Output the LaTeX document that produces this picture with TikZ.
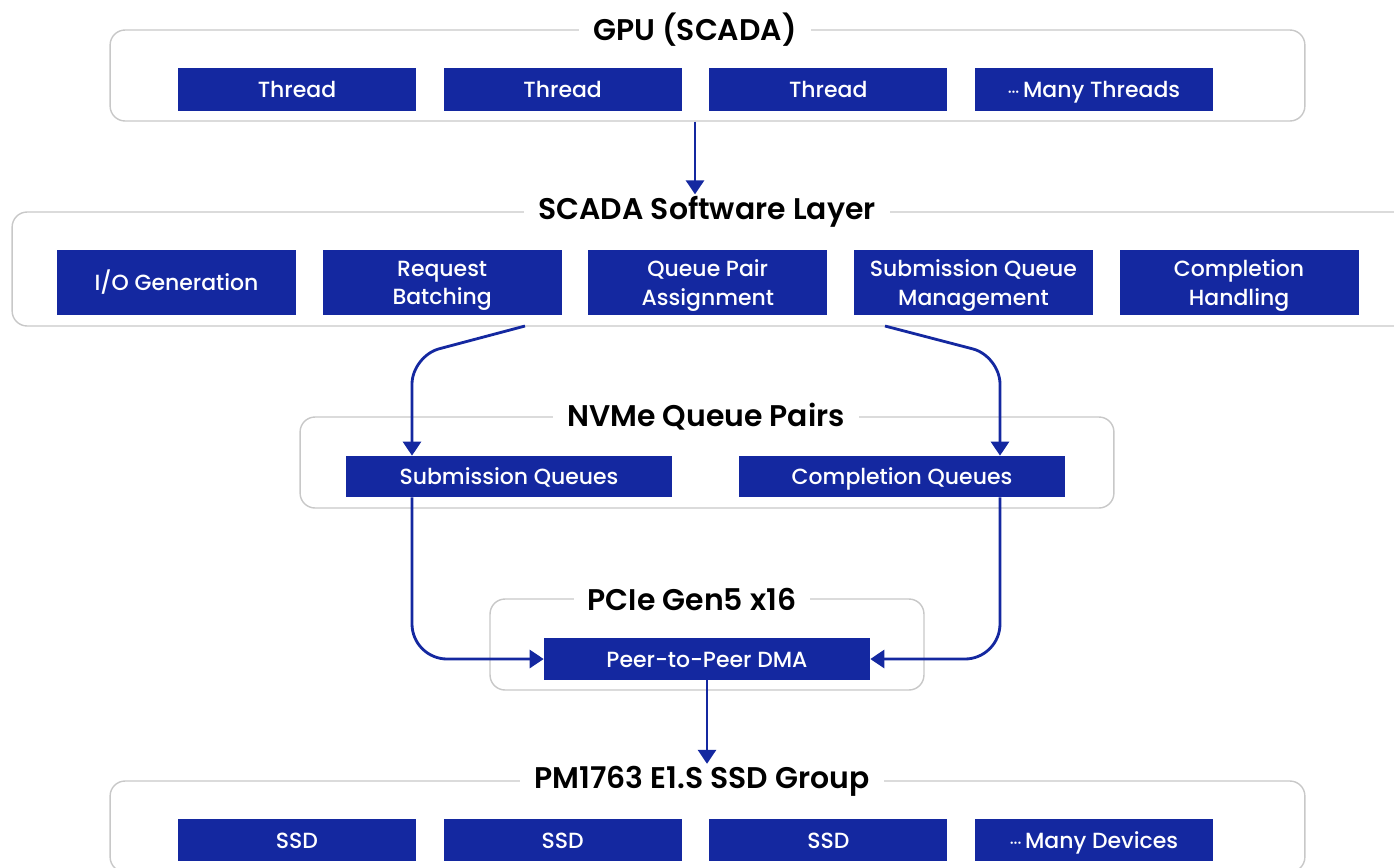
\documentclass[tikz,border=0pt]{standalone}
\usepackage{fontspec}
\setmainfont{Poppins}[BoldFont=* SemiBold]
\newfontfamily\blkfont{Poppins Medium}
\usetikzlibrary{arrows.meta,positioning}
\definecolor{scBlue}{HTML}{1428A0}
\definecolor{frameGray}{HTML}{C8C8C8}
\tikzset{
  frame/.style={draw=frameGray,line width=0.8pt,rounded corners=0.3cm,inner sep=0pt},
  layertitle/.style={fill=white,inner xsep=8pt,inner ysep=1pt,font=\bfseries\fontsize{17}{20}\selectfont},
  blk/.style={fill=scBlue,text=white,inner sep=0pt,align=center,font=\blkfont\fontsize{12.5}{16}\selectfont},
  oneline/.style={text height=2.0ex,text depth=0.3ex},
  twoline/.style={text depth=-1.5pt},
  flow/.style={->,draw=scBlue,line width=1.6pt},
}
\newcommand{\moredots}{{\small···}\,}

\begin{document}
\begin{tikzpicture}[x=0.02cm,y=-0.02cm,>={Triangle[length=0.28cm,width=0.36cm]}]
  \clip (0,0) rectangle (1394,867);
  \fill[white] (0,0) rectangle (1394,867);

  % GPU
  \node[frame,minimum width=23.9cm,minimum height=1.82cm] (gpu) at (707.5,75.5) {};
  \node[layertitle] (gpuT) at (695,30) {GPU (SCADA)};
  \node[blk,oneline,minimum width=4.76cm,minimum height=0.86cm] (t1) at (297,89.5) {Thread};
  \node[blk,oneline,minimum width=4.76cm,minimum height=0.86cm,right=0.54cm of t1] (t2) {Thread};
  \node[blk,oneline,minimum width=4.76cm,minimum height=0.86cm,right=0.54cm of t2] (t3) {Thread};
  \node[blk,oneline,minimum width=4.76cm,minimum height=0.86cm,right=0.54cm of t3] (t4) {\moredots Many Threads};

  % software layer
  \node[frame,minimum width=28.2cm,minimum height=2.28cm] (scada) at (717,269) {};
  \node[layertitle] (scadaT) at (707,212) {SCADA Software Layer};
  \node[blk,minimum width=4.78cm,minimum height=1.3cm] (iog) at (176.5,282.5) {I/O Generation};
  \node[blk,twoline,minimum width=4.78cm,minimum height=1.3cm,right=0.52cm of iog] (rb) {Request\\Batching};
  \node[blk,twoline,minimum width=4.78cm,minimum height=1.3cm,right=0.52cm of rb] (qpa) {Queue Pair\\Assignment};
  \node[blk,twoline,minimum width=4.78cm,minimum height=1.3cm,right=0.52cm of qpa] (sqm) {Submission Queue\\Management};
  \node[blk,twoline,minimum width=4.78cm,minimum height=1.3cm,right=0.52cm of sqm] (ch) {Completion\\Handling};

  % queue pairs
  \node[frame,minimum width=16.28cm,minimum height=1.82cm] (nvme) at (707,462.5) {};
  \node[layertitle] (nvmeT) at (706,417) {NVMe Queue Pairs};
  \node[blk,oneline,minimum width=6.52cm,minimum height=0.82cm] (sq) at (509,476.5) {Submission Queues};
  \node[blk,oneline,minimum width=6.52cm,minimum height=0.82cm] (cq) at (902,476.5) {Completion Queues};

  % PCIe
  \node[frame,minimum width=8.68cm,minimum height=1.82cm] (pcie) at (707,644.5) {};
  \node[layertitle] (pcieT) at (692,599) {PCIe Gen5 x16};
  \node[blk,oneline,minimum width=6.52cm,minimum height=0.84cm] (p2p) at (707,659) {Peer-to-Peer DMA};

  % SSDs
  \node[frame,minimum width=23.9cm,minimum height=1.82cm] (ssd) at (707.5,826.5) {};
  \node[layertitle] (ssdT) at (702,781) {PM1763 E1.S SSD Group};
  \node[blk,oneline,minimum width=4.76cm,minimum height=0.84cm] (s1) at (297,840) {SSD};
  \node[blk,oneline,minimum width=4.76cm,minimum height=0.84cm,right=0.54cm of s1] (s2) {SSD};
  \node[blk,oneline,minimum width=4.76cm,minimum height=0.84cm,right=0.54cm of s2] (s3) {SSD};
  \node[blk,oneline,minimum width=4.76cm,minimum height=0.84cm,right=0.54cm of s3] (s4) {\moredots Many Devices};

  % ports of the flow
  \coordinate (lsplit) at (525,326);
  \coordinate (rsplit) at (885,326);
  \coordinate (lknee) at (412,356);
  \coordinate (rknee) at (1000,356);

  \draw[flow] (gpu.south -| gpuT) -- (scadaT.north -| gpuT);
  \draw[flow,rounded corners=16pt] (lsplit) -- (lknee) -- (lknee |- sq.north);
  \draw[flow,rounded corners=16pt] (rsplit) -- (rknee) -- (rknee |- cq.north);
  \draw[flow,rounded corners=20pt] (sq.south -| lknee) |- (p2p.west);
  \draw[flow,rounded corners=20pt] (cq.south -| rknee) |- (p2p.east);
  \draw[flow] (p2p.south) -- (ssdT.north -| p2p.south);
\end{tikzpicture}
\end{document}
